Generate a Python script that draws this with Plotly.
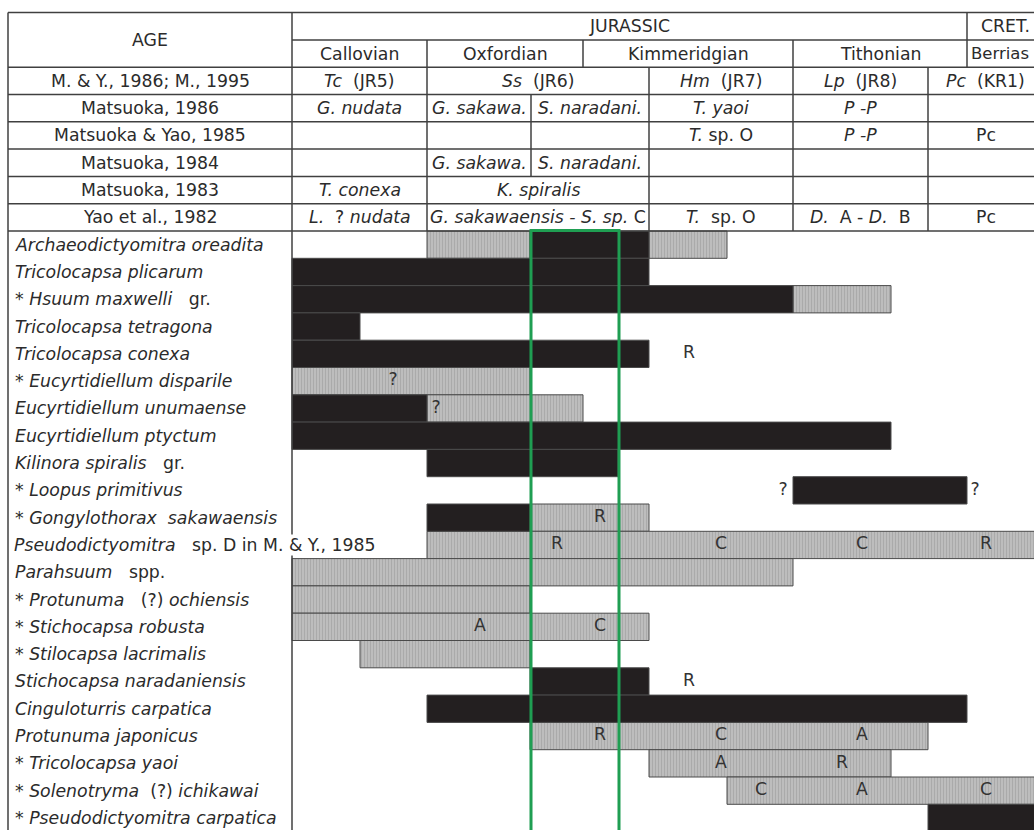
import plotly.graph_objects as go

# ---------------- data ----------------
# x positions are relative age units along the chart (0 = base of Callovian column)
species = [
    "<i>Archaeodictyomitra oreadita</i>",
    "<i>Tricolocapsa plicarum</i>",
    "* <i>Hsuum maxwelli</i>\u00a0\u00a0 gr.",
    "<i>Tricolocapsa tetragona</i>",
    "<i>Tricolocapsa conexa</i>",
    "* <i>Eucyrtidiellum disparile</i>",
    "<i>Eucyrtidiellum unumaense</i>",
    "<i>Eucyrtidiellum ptyctum</i>",
    "<i>Kilinora spiralis</i>\u00a0\u00a0 gr.",
    "* <i>Loopus primitivus</i>",
    "* <i>Gongylothorax\u00a0 sakawaensis</i>",
    "<i>Pseudodictyomitra</i>\u00a0\u00a0 sp. D in M. & Y., 1985",
    "<i>Parahsuum</i>\u00a0\u00a0 spp.",
    "* <i>Protunuma</i>\u00a0\u00a0 (?) <i>ochiensis</i>",
    "* <i>Stichocapsa robusta</i>",
    "* <i>Stilocapsa lacrimalis</i>",
    "<i>Stichocapsa naradaniensis</i>",
    "<i>Cinguloturris carpatica</i>",
    "<i>Protunuma japonicus</i>",
    "* <i>Tricolocapsa yaoi</i>",
    "* <i>Solenotryma</i>\u00a0 (?) <i>ichikawai</i>",
    "* <i>Pseudodictyomitra carpatica</i>",
]

# solid (black) ranges
black_row   = [0, 1, 2, 3, 4, 6, 7, 8, 9, 10, 16, 17, 21]
black_start = [23.8, 0, 0, 0, 0, 0, 0, 13.5, 50.1, 13.5, 23.8, 13.5, 63.6]
black_end   = [35.7, 35.7, 50.1, 6.8, 35.7, 13.5, 59.9, 32.6, 67.5, 23.8, 35.7, 67.5, 76.0]

# hatched (grey) ranges
gray_row   = [0, 0, 2, 5, 6, 10, 11, 12, 13, 14, 15, 18, 19, 20]
gray_start = [13.5, 35.7, 50.1, 0, 13.5, 23.8, 13.5, 0, 0, 0, 6.8, 23.8, 35.7, 43.5]
gray_end   = [23.8, 43.5, 59.9, 23.8, 29.1, 35.7, 76.0, 50.1, 23.8, 35.7, 23.8, 63.6, 59.9, 76.0]

# abundance / uncertainty marks
mark_row  = [4, 5, 6, 9, 9, 10, 11, 11, 11, 11, 14, 14, 16, 18, 18, 18, 19, 19, 20, 20, 20]
mark_pos  = [39.7, 10.1, 14.4, 49.1, 68.3, 30.8, 26.5, 42.9, 57.0, 69.4, 18.8, 30.8, 39.7,
             30.8, 42.9, 57.0, 42.9, 55.0, 46.9, 57.0, 69.4]
mark_text = ["R", "?", "?", "?", "?", "R", "R", "C", "C", "R", "A", "C", "R",
             "R", "C", "A", "A", "R", "C", "A", "C"]

# header table: stage boundaries and zonations
label_col = (-28.4, 0.0)
table_end = 75.1
period_cells = [(0.0, 67.5, "JURASSIC"), (67.5, 75.1, "CRET.")]
stage_cells = [(0.0, 13.5, "Callovian"), (13.5, 29.1, "Oxfordian"), (29.1, 50.1, "Kimmeridgian"),
               (50.1, 67.5, "Tithonian"), (67.5, 74.0, "Berrias")]
zonation_labels = ["M. & Y., 1986; M., 1995", "Matsuoka, 1986", "Matsuoka & Yao, 1985",
                   "Matsuoka, 1984", "Matsuoka, 1983", "Yao et al., 1982"]
zonation_cells = [
    [(0.0, 13.5, "<i>Tc</i>\u00a0 (JR5)"), (13.5, 35.7, "<i>Ss</i>\u00a0 (JR6)"),
     (35.7, 50.1, "<i>Hm</i>\u00a0 (JR7)"), (50.1, 63.6, "<i>Lp</i>\u00a0 (JR8)"),
     (63.6, 75.1, "<i>Pc</i>\u00a0 (KR1)")],
    [(0.0, 13.5, "<i>G. nudata</i>"), (13.5, 23.9, "<i>G. sakawa.</i>"),
     (23.9, 35.7, "<i>S. naradani.</i>"), (35.7, 50.1, "<i>T. yaoi</i>"),
     (50.1, 63.6, "<i>P -P</i>"), (63.6, 75.1, "")],
    [(0.0, 13.5, ""), (13.5, 23.9, ""), (23.9, 35.7, ""), (35.7, 50.1, "<i>T.</i> sp. O"),
     (50.1, 63.6, "<i>P -P</i>"), (63.6, 75.1, "Pc")],
    [(0.0, 13.5, ""), (13.5, 23.9, "<i>G. sakawa.</i>"), (23.9, 35.7, "<i>S. naradani.</i>"),
     (35.7, 50.1, ""), (50.1, 63.6, ""), (63.6, 75.1, "")],
    [(0.0, 13.5, "<i>T. conexa</i>"), (13.5, 35.7, "<i>K. spiralis</i>"),
     (35.7, 50.1, ""), (50.1, 63.6, ""), (63.6, 75.1, "")],
    [(0.0, 13.5, "<i>L.</i>\u00a0 ? <i>nudata</i>"), (13.5, 35.7, "<i>G. sakawaensis - S. sp.</i>\u00a0C"),
     (35.7, 50.1, "<i>T.</i>\u00a0 sp. O"), (50.1, 63.6, "<i>D.</i>\u00a0 A - <i>D.</i>\u00a0 B"),
     (63.6, 75.1, "Pc")],
]
highlight = (23.9, 32.7)

# ---------------- styling ----------------
FONT = "DejaVu Sans"
FS = 17.3
TXT = "#2b2b2b"
LINE = "#404040"
BLACK = "#231f20"

n_rows = len(species)
fig = go.Figure()

fig.add_trace(go.Bar(
    orientation="h",
    y=[r + 0.5 for r in gray_row],
    base=gray_start,
    x=[e - s for s, e in zip(gray_start, gray_end)],
    width=1.0,
    marker=dict(color="#bdbdbd", line=dict(color="#4a4a4a", width=1),
                pattern=dict(shape="|", fgcolor="#929292", size=3, solidity=0.3, fillmode="overlay")),
    hoverinfo="skip", showlegend=False,
))
fig.add_trace(go.Bar(
    orientation="h",
    y=[r + 0.5 for r in black_row],
    base=black_start,
    x=[e - s for s, e in zip(black_start, black_end)],
    width=1.0,
    marker=dict(color=BLACK, line=dict(color="#4a4a4a", width=1)),
    hoverinfo="skip", showlegend=False,
))
fig.add_trace(go.Scatter(
    x=mark_pos, y=[r + 0.5 for r in mark_row], mode="text", text=mark_text,
    textfont=dict(family=FONT, size=FS, color="#333333"),
    hoverinfo="skip", showlegend=False,
))

annotations = []
shapes = []

def hline(x0, x1, y):
    shapes.append(dict(type="line", xref="x", yref="y", x0=x0, x1=x1, y0=y, y1=y,
                       line=dict(color=LINE, width=1.5), layer="above"))

def vline(x, y0, y1):
    shapes.append(dict(type="line", xref="x", yref="y", x0=x, x1=x, y0=y0, y1=y1,
                       line=dict(color=LINE, width=1.5), layer="above"))

def text(x, y, s, anchor="center", bg=None, size=FS):
    a = dict(x=x, y=y, xref="x", yref="y", text=s, showarrow=False, xanchor=anchor,
             yanchor="middle", font=dict(family=FONT, size=size, color=TXT))
    if bg:
        a.update(bgcolor=bg, borderpad=0)
    annotations.append(a)

top = -8
lc0, lc1 = label_col
y_bottom = n_rows + 1
# outer lines
hline(lc0, table_end, top)
vline(lc0, top, y_bottom)
vline(lc1, top, y_bottom)
hline(lc1, table_end, top + 1)
text((lc0 + lc1) / 2, top + 1, "AGE")

for (a, b, s) in period_cells:
    text((a + b) / 2, top + 0.5, s)
    if a > lc1:
        vline(a, top, top + 1)
for (a, b, s) in stage_cells:
    text((a + b) / 2, top + 1.5, s, size=16.5 if b < table_end - 1 and a > 60 else FS)
    if a > lc1:
        vline(a, top + 1, top + 2)
hline(lc0, table_end, top + 2)

for i, (lab, cells) in enumerate(zip(zonation_labels, zonation_cells)):
    y0 = top + 2 + i
    text((lc0 + lc1) / 2, y0 + 0.5, lab)
    for (a, b, s) in cells:
        if s:
            text((a + b) / 2, y0 + 0.5, s)
        if a > lc1:
            vline(a, y0, y0 + 1)
    hline(lc0, table_end, y0 + 1)

for i, s in enumerate(species):
    text(lc0 + 0.45, i + 0.5, s, anchor="left", bg="white" if "1985" in s else None)

# highlight box
shapes.append(dict(type="rect", xref="x", yref="y", x0=highlight[0], x1=highlight[1],
                   y0=-0.02, y1=y_bottom, line=dict(color="#1f9e52", width=3),
                   fillcolor="rgba(0,0,0,0)", layer="above"))

px_per_unit = 10.0
x_left = -292 / px_per_unit
row_px = 27.3
y_top = -231 / row_px
y_bot = (830 - 231) / row_px

fig.update_layout(
    width=1034, height=830,
    margin=dict(l=0, r=0, t=0, b=0),
    paper_bgcolor="white", plot_bgcolor="white",
    barmode="overlay", bargap=0,
    xaxis=dict(range=[x_left, x_left + 1034 / px_per_unit], visible=False, fixedrange=True),
    yaxis=dict(range=[y_bot, y_top], visible=False, fixedrange=True),
    shapes=shapes, annotations=annotations,
    showlegend=False,
)

fig.write_html(
    "out.html",
    config={"displayModeBar": False, "staticPlot": True},
    post_script="document.body.style.margin='0';document.body.style.overflow='hidden';",
)
